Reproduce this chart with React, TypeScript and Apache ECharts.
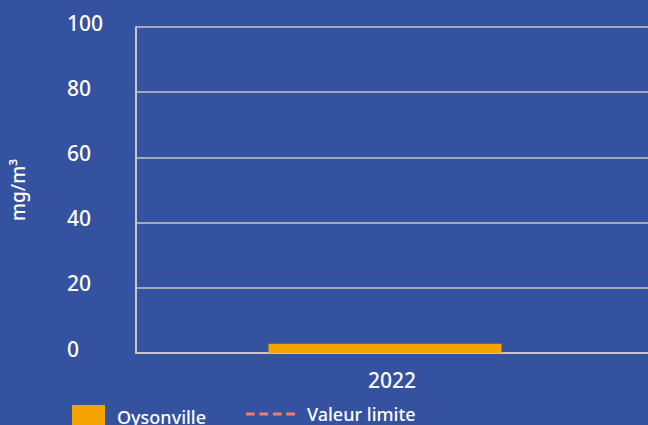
import React, { useEffect, useRef } from "react";
import * as echarts from "echarts";

const categories = ["2022"];
const oysonvilleValues = [2.8];
const valeurLimiteValues: (number | null)[] = [];
const spacerValues: (number | null)[] = [null];
const yTicks = { min: 0, max: 100, interval: 20 };

const FONT = "'Noto Sans', sans-serif";
const BG = "#3452a0";
const GRID = "#c9c6c4";
const LIMIT = "#f07f6c";
const DASH_ICON =
  "path://M0,0h8.7v3h-8.7z M13.3,0h8.7v3h-8.7z M26.7,0h8.7v3h-8.7z M40,0h8.7v3h-8.7z";

export default function App() {
  const ref = useRef<HTMLDivElement>(null);
  useEffect(() => {
    if (!ref.current) return;
    const chart = echarts.init(ref.current, undefined, { renderer: "svg" });
    chart.setOption({
      animation: false,
      backgroundColor: BG,
      textStyle: { fontFamily: FONT, color: "#ffffff" },
      grid: { left: 134, right: 0, top: 27, bottom: 72, containLabel: false },
      legend: [
        {
          data: ["Oysonville"],
          left: 72,
          top: 405,
          padding: 0,
          itemWidth: 33,
          itemHeight: 24,
          icon: "rect",
          textStyle: { color: "#ffffff", fontSize: 18, fontWeight: 500, fontFamily: FONT, padding: [0, 0, 0, 7] },
        },
        {
          data: [{ name: "Valeur limite", icon: DASH_ICON, itemStyle: { color: LIMIT } }],
          left: 246,
          top: 405,
          padding: 0,
          itemWidth: 49,
          itemHeight: 24,
          textStyle: { color: "#ffffff", fontSize: 18, fontWeight: 500, fontFamily: FONT, padding: [0, 0, 0, 7] },
        },
      ],
      xAxis: {
        type: "category",
        data: categories,
        axisLine: { show: true, lineStyle: { color: GRID, width: 2 } },
        axisTick: { show: false },
        axisLabel: { color: "#ffffff", fontSize: 21, fontWeight: 500, margin: 16, fontFamily: FONT },
      },
      yAxis: {
        type: "value",
        min: yTicks.min,
        max: yTicks.max,
        interval: yTicks.interval,
        name: "mg/m³",
        nameLocation: "middle",
        nameRotate: 90,
        nameGap: 109,
        nameTextStyle: { color: "#ffffff", fontSize: 19, fontWeight: 500, fontFamily: FONT },
        axisLine: { show: true, lineStyle: { color: GRID, width: 2 } },
        axisTick: { show: false },
        splitLine: { show: true, lineStyle: { color: GRID, width: 1.5 } },
        axisLabel: {
          color: "#ffffff",
          fontSize: 21,
          fontWeight: 500,
          align: "left",
          verticalAlign: "bottom",
          lineHeight: 9,
          margin: 69,
          fontFamily: FONT,
        },
      },
      series: [
        {
          name: "Oysonville",
          type: "bar",
          data: oysonvilleValues,
          barWidth: 233,
          barGap: "0%",
          itemStyle: { color: "#f5a300" },
        },
        {
          name: "spacer",
          type: "bar",
          data: spacerValues,
          barWidth: 14,
          itemStyle: { color: "transparent" },
        },
        {
          name: "Valeur limite",
          type: "line",
          data: valeurLimiteValues,
          symbol: "none",
          itemStyle: { color: LIMIT },
          lineStyle: { color: LIMIT, type: [8, 5], width: 3 },
        },
      ],
    });
    return () => chart.dispose();
  }, []);
  return (
    <div
      ref={ref}
      style={{ position: "absolute", left: 0, top: 0, width: 648, height: 425 }}
    />
  );
}
